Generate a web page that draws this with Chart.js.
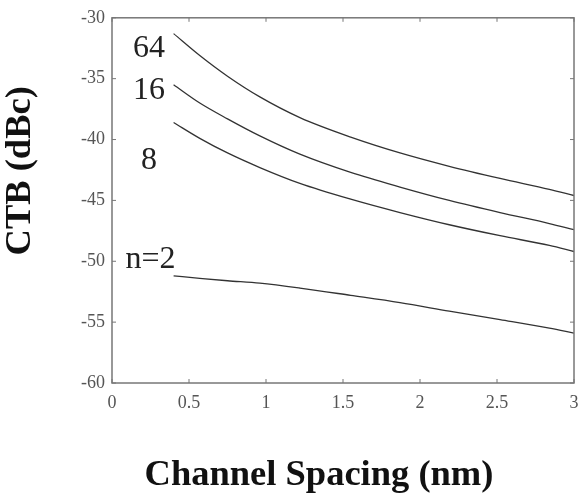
<!DOCTYPE html>
<html>
<head>
<meta charset="utf-8">
<script src="https://cdn.jsdelivr.net/npm/chart.js@4"></script>
<style>
  html, body { margin: 0; padding: 0; background: #fff; }
  #wrap { width: 579px; height: 494px; }
</style>
</head>
<body>
<div id="wrap"><canvas id="myChart" width="579" height="494"></canvas></div>
<script>
// channel spacing (nm) sampled along the curves
const spacing = [0.4, 0.57, 0.75, 0.96, 1.22, 1.55, 1.87, 2.19, 2.52, 2.84, 3.0];
// CTB (dBc) per number of channels n
const ctb64 = [-31.3, -33.1, -34.8, -36.5, -38.2, -39.8, -41.1, -42.2, -43.2, -44.1, -44.6];
const ctb16 = [-35.5, -37.0, -38.3, -39.7, -41.2, -42.7, -43.9, -45.0, -46.0, -46.9, -47.4];
const ctb8  = [-38.6, -39.9, -41.1, -42.3, -43.6, -44.9, -46.0, -47.0, -47.9, -48.7, -49.2];
const ctb2  = [-51.2, -51.4, -51.6, -51.8, -52.2, -52.8, -53.4, -54.1, -54.8, -55.5, -55.9];

const xTicks = [0, 0.5, 1, 1.5, 2, 2.5, 3];
const yTicks = [-30, -35, -40, -45, -50, -55, -60];

// curve labels, placed in data coordinates
const curveLabels = ['64', '16', '8', 'n=2'];
const labelX = [0.24, 0.24, 0.24, 0.25];
const labelY = [-32.5, -36.0, -41.7, -49.9];

const serif = '"Liberation Serif", "DejaVu Serif", serif';

function toPoints(ys) {
    return spacing.map((x, i) => ({ x: x, y: ys[i] }));
}

function lineSet(label, ys) {
    return {
        label: label,
        data: toPoints(ys),
        borderColor: '#333',
        borderWidth: 1.3,
        pointRadius: 0,
        cubicInterpolationMode: 'monotone',
        fill: false
    };
}

// box around the plot + inward tick marks + curve labels + axis titles
const framePlugin = {
    id: 'frame',
    afterDraw(chart) {
        const c = chart.ctx;
        const a = chart.chartArea;
        const xs = chart.scales.x;
        const ys = chart.scales.y;
        c.save();
        c.strokeStyle = '#777';
        c.lineWidth = 1.5;
        c.strokeRect(a.left, a.top, a.right - a.left, a.bottom - a.top);
        c.lineWidth = 1;
        xTicks.forEach(v => {
            const px = xs.getPixelForValue(v);
            c.beginPath();
            c.moveTo(px, a.bottom); c.lineTo(px, a.bottom - 4);
            c.moveTo(px, a.top); c.lineTo(px, a.top + 4);
            c.stroke();
        });
        yTicks.forEach(v => {
            const py = ys.getPixelForValue(v);
            c.beginPath();
            c.moveTo(a.left, py); c.lineTo(a.left + 4, py);
            c.moveTo(a.right, py); c.lineTo(a.right - 4, py);
            c.stroke();
        });

        c.fillStyle = '#222';
        c.font = '32px ' + serif;
        c.textAlign = 'center';
        c.textBaseline = 'middle';
        curveLabels.forEach((t, i) => {
            c.fillText(t, xs.getPixelForValue(labelX[i]), ys.getPixelForValue(labelY[i]));
        });

        // axis titles
        c.fillStyle = '#111';
        c.font = 'bold 36.5px ' + serif;
        c.fillText('Channel Spacing (nm)', (a.left + a.right) / 2 - 24, a.bottom + 93);
        c.translate(a.left - 91, a.top + 153);
        c.rotate(-Math.PI / 2);
        c.fillText('CTB (dBc)', 0, 0);
        c.restore();
    }
};

var ctx = document.getElementById('myChart').getContext('2d');
var myChart = new Chart(ctx, {
    type: 'line',
    data: {
        datasets: [
            lineSet('64', ctb64),
            lineSet('16', ctb16),
            lineSet('8', ctb8),
            lineSet('n=2', ctb2)
        ]
    },
    options: {
        responsive: false,
        animation: false,
        layout: { padding: { top: 17, right: 5, left: 0, bottom: 0 } },
        plugins: {
            legend: { display: false },
            tooltip: { enabled: false }
        },
        scales: {
            x: {
                type: 'linear',
                min: 0,
                max: 3,
                afterBuildTicks: s => { s.ticks = xTicks.map(v => ({ value: v })); },
                afterFit: s => { s.height = 111; s.paddingRight = 0; s.paddingLeft = 0; },
                grid: { display: false, drawTicks: false },
                border: { display: false },
                ticks: {
                    color: '#555',
                    padding: 9,
                    maxRotation: 0,
                    callback: v => String(v),
                    font: { family: serif, size: 18 }
                }
            },
            y: {
                min: -60,
                max: -30,
                afterBuildTicks: s => { s.ticks = yTicks.map(v => ({ value: v })); },
                afterFit: s => { s.width = 112; },
                grid: { display: false, drawTicks: false },
                border: { display: false },
                ticks: {
                    color: '#555',
                    padding: 7,
                    callback: v => String(v),
                    font: { family: serif, size: 18 }
                }
            }
        }
    },
    plugins: [framePlugin]
});
</script>
</body>
</html>
